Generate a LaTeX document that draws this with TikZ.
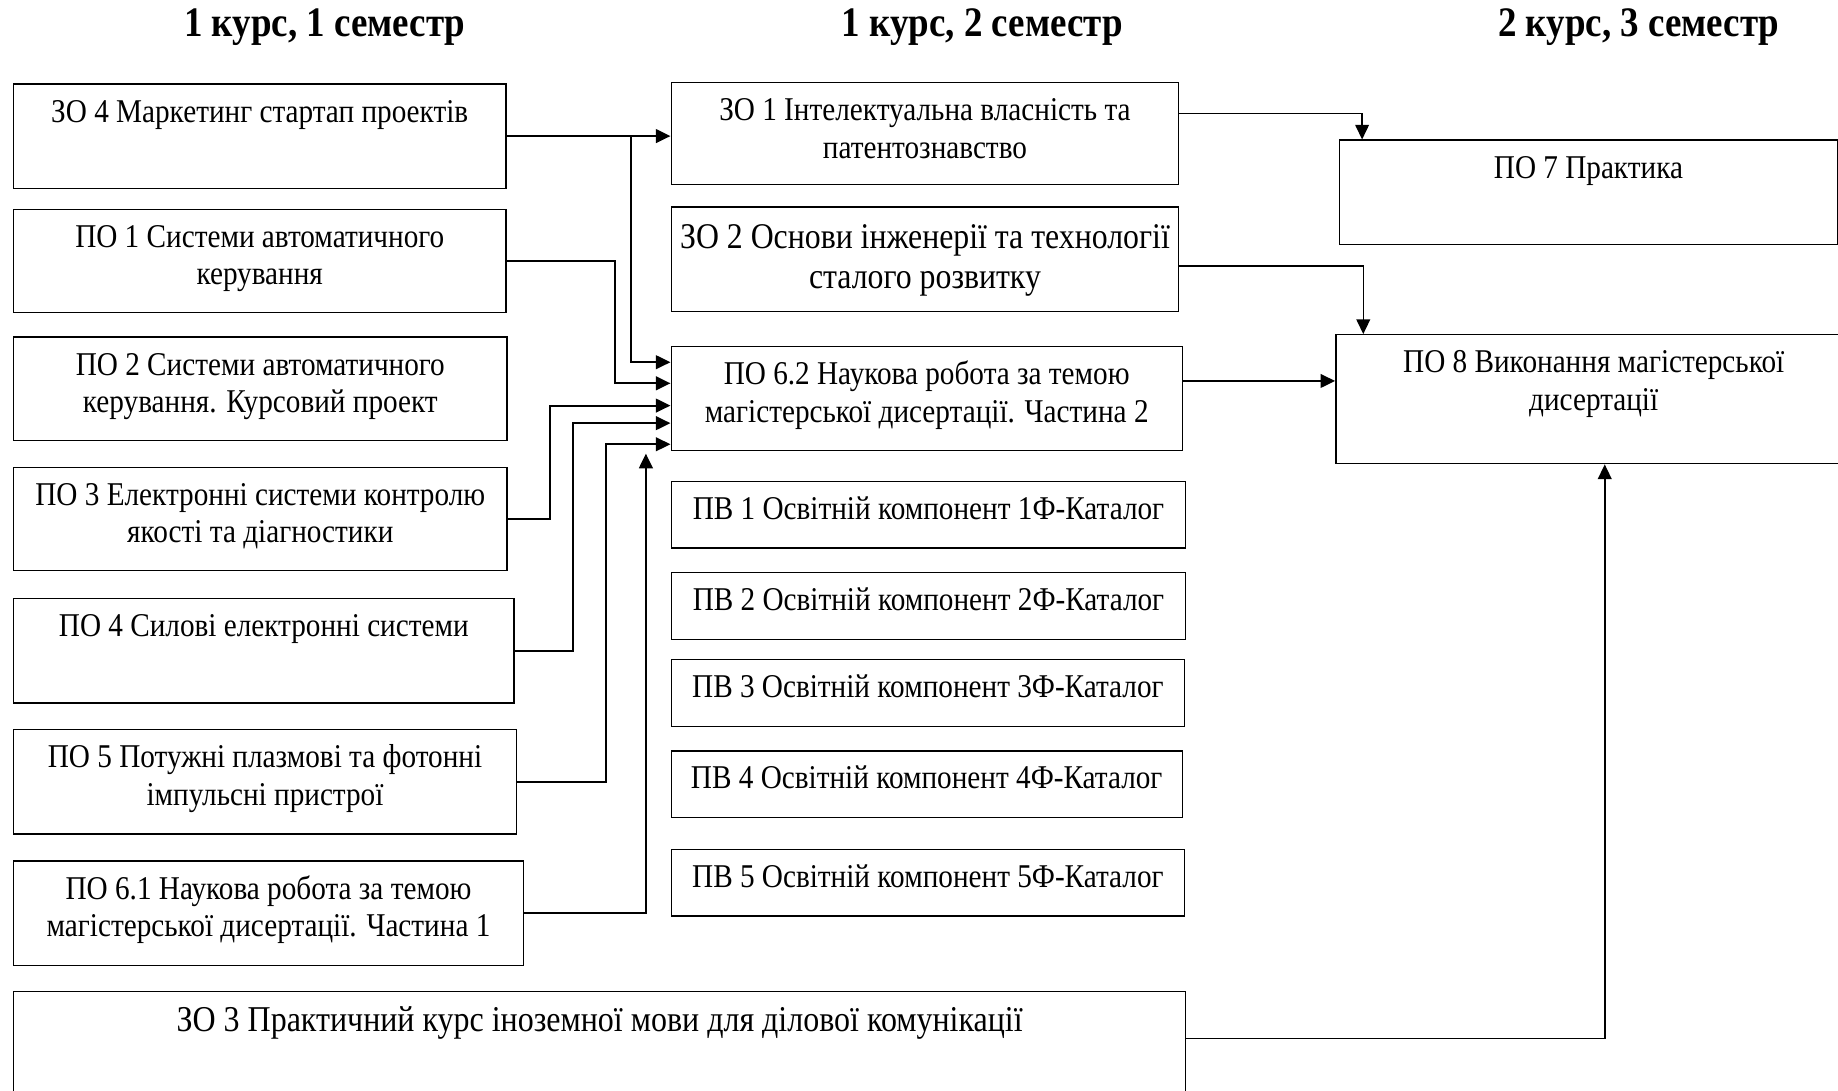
\documentclass[tikz,border=0pt]{standalone}
\usepackage{fontspec}
\setmainfont{Liberation Serif}[FakeStretch=0.88]
\usetikzlibrary{arrows.meta}

\begin{document}
\begin{tikzpicture}
[boxDecorate/.style={draw,line width=0.7pt,anchor=north west,inner sep=0pt,%
    font=\fontsize{17}{19.2}\selectfont},%
  headDecorate/.style={font=\fontsize{21.5}{24}\selectfont\bfseries},%
  lineDecorate/.style={-{Triangle[length=7.5pt,width=7pt]},line width=0.8pt},%
  arrowDecorate/.style={-{Triangle[length=7.5pt,width=7pt]},line width=1.1pt},%
  x=0.6pt,y=-0.6pt]
\clip (0,0) rectangle (1568,930);
%% semester headings
\foreach \nodename/\x/\txt in {sem1/277/{1 курс, 1 семестр},
  sem2/838/{1 курс, 2 семестр}, sem3/1398/{2 курс, 3 семестр}}
{
  \node (\nodename) at (\x,23) [headDecorate] {\txt};
}
%% boxes of the components
\foreach \nodename/\x/\y/\w/\h/\txt in {
  zo4/11/71/420/89/{ЗО 4 Маркетинг стартап проектів},
  po1/11/178/420/88/{ПО 1 Системи автоматичного\\керування},
  po2/11/287/421/88/{ПО 2 Системи автоматичного\\керування. Курсовий проект},
  po3/11/398/421/88/{ПО 3 Електронні системи контролю\\якості та діагностики},
  po4/11/510/427/89/{ПО 4 Силові електронні системи},
  po5/11/622/429/89/{ПО 5 Потужні плазмові та фотонні\\імпульсні пристрої},
  po61/11/734/435/89/{ПО 6.1 Наукова робота за темою\\магістерської дисертації. Частина 1},
  zo3/11/845/1000/120/{\fontsize{18.6}{21}\selectfont\rule{0pt}{20.8pt}%
    ЗО 3 Практичний курс іноземної мови для ділової комунікації\endgraf},
  zo1/572/70/433/87/{ЗО 1 Інтелектуальна власність та\\патентознавство},
  zo2/572/176/433/89/{\fontsize{18.5}{20.4}\selectfont\rule{0pt}{21.5pt}%
    ЗО 2 Основи інженерії та технології\\сталого розвитку\endgraf},
  po62/572/295/436/89/{ПО 6.2 Наукова робота за темою\\магістерської дисертації. Частина 2},
  pv1/572/410/439/57/{ПВ 1 Освітній компонент 1Ф-Каталог},
  pv2/572/488/439/57/{ПВ 2 Освітній компонент 2Ф-Каталог},
  pv3/572/562/438/57/{ПВ 3 Освітній компонент 3Ф-Каталог},
  pv4/572/640/436/57/{ПВ 4 Освітній компонент 4Ф-Каталог},
  pv5/572/724/438/57/{ПВ 5 Освітній компонент 5Ф-Каталог},
  po7/1142/119/425/89/{ПО 7 Практика},
  po8/1139/285/440/110/{ПО 8 Виконання магістерської\\дисертації}}
{
  \node (\nodename) at (\x,\y) [boxDecorate]
    {\parbox[c][\dimexpr\h pt*3/5\relax][t]{\dimexpr\w pt*3/5\relax}%
      {\centering\rule{0pt}{19.5pt}\txt}};
}
%% arrows into the second semester
\draw[arrowDecorate] (zo4.east) -- (zo1.west |- zo4.east);
\draw[arrowDecorate] (zo4.east -| 538,0) |- (po62.west |- 0,309);
\draw[arrowDecorate] (po1.east) -| (525,327) -- (po62.west |- 0,327);
\draw[arrowDecorate] (po3.east) -| (469,346) -- (po62.west |- 0,346);
\draw[arrowDecorate] (po4.east) -| (489,361) -- (po62.west |- 0,361);
\draw[arrowDecorate] (po5.east) -| (517,379) -- (po62.west |- 0,379);
\coordinate (tip) at (551,387);
\draw[arrowDecorate] (po61.east) -| (tip);
%% arrows into the third semester
\draw[lineDecorate] (zo1.east |- 0,97) -| (po7.north west -| 1162,0);
\draw[lineDecorate] (zo2.east |- 0,227) -| (po8.north west -| 1163,0);
\draw[arrowDecorate] (po62.east |- 0,325) -- (po8.west |- 0,325);
\draw[lineDecorate] (zo3.east |- 0,886) -| (po8.south west -| 1369,0);
\end{tikzpicture}
\end{document}
